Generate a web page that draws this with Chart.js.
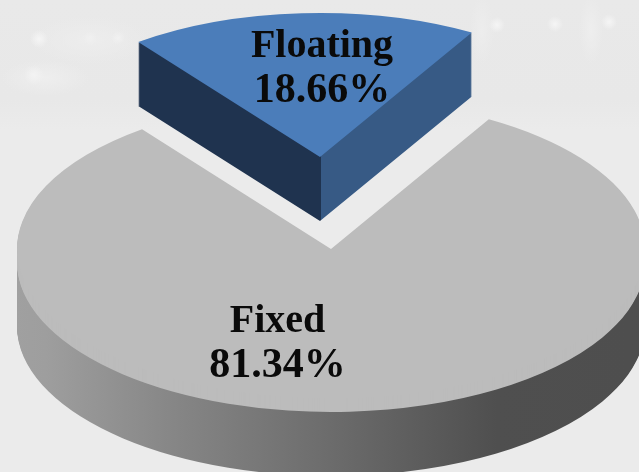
<!DOCTYPE html>
<html>
<head>
<meta charset="utf-8">
<title>Floating vs Fixed</title>
<script src="https://cdn.jsdelivr.net/npm/chart.js@4/dist/chart.umd.js"></script>
<style>
html, body {
    margin: 0;
    padding: 0;
    width: 639px;
    height: 472px;
    overflow: hidden;
}
body {
    background-color: #ebebeb;
    background-image:
        radial-gradient(circle 9px at 39px 39px, #f5f5f5, rgba(245,245,245,0)),
        radial-gradient(circle 10px at 34px 75px, #f3f3f3, rgba(243,243,243,0)),
        radial-gradient(circle 7px at 90px 38px, #f0f0f0, rgba(240,240,240,0)),
        radial-gradient(circle 7px at 118px 38px, #f1f1f1, rgba(241,241,241,0)),
        radial-gradient(circle 8px at 497px 25px, #f5f5f5, rgba(245,245,245,0)),
        radial-gradient(circle 8px at 555px 24px, #f5f5f5, rgba(245,245,245,0)),
        radial-gradient(circle 8px at 609px 22px, #f5f5f5, rgba(245,245,245,0)),
        radial-gradient(ellipse 12px 34px at 591px 30px, #eeeeee, rgba(238,238,238,0)),
        radial-gradient(ellipse 12px 34px at 482px 30px, #ededed, rgba(237,237,237,0)),
        radial-gradient(ellipse 44px 18px at 45px 78px, #eeeeee, rgba(238,238,238,0)),
        radial-gradient(ellipse 60px 24px at 90px 40px, #ededed, rgba(237,237,237,0)),
        linear-gradient(to bottom, #e9e9e9 0, #e8e8e8 100px, #ebebeb 130px);
}
canvas { display: block; }
</style>
</head>
<body>
<canvas id="pie-chartcanvas" width="639" height="472"></canvas>
<script>
//chart data
var categories = ["Floating", "Fixed"];
var values = [18.66, 81.34];
var topColors = ["#4b7dba", "#bcbcbc"];

//flattened pie, one projection per slice
var startRotation = -37;
var projections = [
    { cx: 320, cy: 157, rx: 302, ry: 144, rim: 0, depth: 64 },
    { cx: 331, cy: 249, rx: 314, ry: 150, rim: 13, depth: 64 }
];

//label placement
var labelX = [322, 277.5];
var labelY = [57, 332];
var lineHeight = 45;

function sideFill(ctx, index) {
    var p = projections[index];
    var g = ctx.createLinearGradient(p.cx - p.rx, 0, p.cx + p.rx, 0);
    if (index === 0) {
        //two flat walls, they meet under the tip of the slice
        g.addColorStop(0, "#1f334f");
        g.addColorStop(0.5, "#1f334f");
        g.addColorStop(0.5, "#375a85");
        g.addColorStop(1, "#375a85");
    } else {
        g.addColorStop(0, "#a6a6a6");
        g.addColorStop(0.14, "#9e9e9e");
        g.addColorStop(0.3, "#858585");
        g.addColorStop(0.48, "#6c6c6c");
        g.addColorStop(0.68, "#4f4f4f");
        g.addColorStop(1, "#4d4d4d");
    }
    return g;
}

function drawLayer(ctx, arc, p, shift, fill) {
    var layer = Object.create(arc);
    layer.options = Object.assign({}, arc.options, { backgroundColor: fill, borderWidth: 0 });
    ctx.save();
    ctx.translate(p.cx, p.cy + shift);
    ctx.scale(p.rx / arc.outerRadius, p.ry / arc.outerRadius);
    ctx.translate(-arc.x, -arc.y);
    layer.draw(ctx);
    ctx.restore();
}

var pie3d = {
    id: "pie3d",
    beforeDatasetsDraw: function (chart) {
        var ctx = chart.ctx;
        var arcs = chart.getDatasetMeta(0).data;
        //big slice first, the small one stands in front of its notch
        [1, 0].forEach(function (i) {
            var p = projections[i];
            var side = sideFill(ctx, i);
            var s;
            for (s = p.rim + p.depth; s > p.rim; s--) {
                drawLayer(ctx, arcs[i], p, s, side);
            }
            for (s = p.rim; s >= 0; s--) {
                drawLayer(ctx, arcs[i], p, s, topColors[i]);
            }
        });
        return false;
    },
    afterDraw: function (chart) {
        var ctx = chart.ctx;
        ctx.save();
        ctx.fillStyle = "#0a0a0a";
        ctx.textAlign = "center";
        ctx.textBaseline = "alphabetic";
        categories.forEach(function (name, i) {
            ctx.font = "bold 40px 'Liberation Serif'";
            ctx.fillText(name, labelX[i], labelY[i]);
            //the percent line runs a little wider than the name
            ctx.font = "bold 42px 'Liberation Serif'";
            ctx.fillText(values[i].toFixed(2) + "%", labelX[i], labelY[i] + lineHeight);
        });
        ctx.restore();
    }
};

var chart1 = new Chart(document.getElementById("pie-chartcanvas"), {
    type: "pie",
    data: {
        labels: categories,
        datasets: [
            {
                data: values,
                backgroundColor: topColors,
                borderWidth: 0
            }
        ]
    },
    options: {
        responsive: false,
        animation: false,
        rotation: startRotation,
        plugins: {
            legend: { display: false },
            tooltip: { enabled: false }
        }
    },
    plugins: [pie3d]
});
</script>
</body>
</html>
